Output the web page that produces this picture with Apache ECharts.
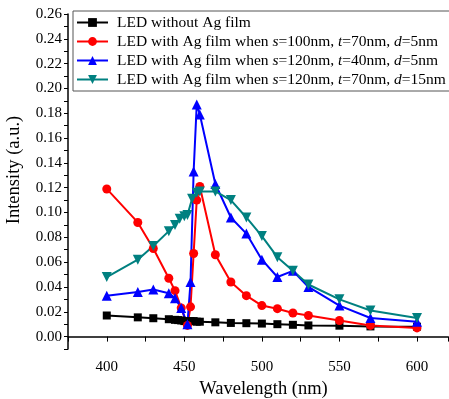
<!DOCTYPE html>
<html>
<head>
<meta charset="utf-8">
<script src="https://cdn.jsdelivr.net/npm/echarts@6/dist/echarts.min.js"></script>
<style>html,body{margin:0;padding:0;background:#fff}#c{width:449px;height:399px}</style>
</head>
<body>
<div id="c"></div>
<script>
// Data (wavelength nm, intensity a.u.)
var blackX = [400,420,430,440,444,446,448,450,452,454,456,458,460,470,480,490,500,510,520,530,550,570,600];
var blackY = [0.017,0.0155,0.0148,0.014,0.0135,0.0133,0.013,0.0125,0.012,0.0125,0.0125,0.012,0.012,0.0115,0.011,0.0108,0.0105,0.010,0.0095,0.009,0.0088,0.0082,0.008];
var redX = [400,420,430,440,444,448,452,454,456,458,460,470,480,490,500,510,520,530,550,570,600];
var redY = [0.119,0.092,0.071,0.047,0.037,0.023,0.009,0.024,0.067,0.110,0.121,0.066,0.044,0.033,0.025,0.0225,0.019,0.017,0.013,0.009,0.007];
var blueX = [400,420,430,440,444,448,452,454,456,458,460,470,480,490,500,510,520,530,550,570,600];
var blueY = [0.033,0.036,0.038,0.035,0.031,0.023,0.010,0.044,0.133,0.187,0.179,0.123,0.096,0.083,0.062,0.048,0.053,0.040,0.025,0.015,0.012];
var tealX = [400,420,430,440,444,447,450,452,455,458,460,470,480,490,500,510,520,530,550,570,600];
var tealY = [0.048,0.062,0.073,0.085,0.090,0.095,0.097,0.098,0.111,0.116,0.117,0.117,0.110,0.096,0.081,0.064,0.053,0.042,0.030,0.021,0.015];
var seriesNames = ['LED without Ag film','s100t70d5','s120t40d5','s120t70d15'];
var legendLabels = {
  'LED without Ag film': 'LED without Ag film',
  's100t70d5': 'LED with Ag film when {i|s}=100nm, {i|t}=70nm, {i|d}=5nm',
  's120t40d5': 'LED with Ag film when {i|s}=120nm, {i|t}=40nm, {i|d}=5nm',
  's120t70d15': 'LED with Ag film when {i|s}=120nm, {i|t}=70nm, {i|d}=15nm'
};
var xTitle = 'Wavelength (nm)';
var yTitle = 'Intensity (a.u.)';

function pairs(xs, ys){ return xs.map(function(x,i){return [x, ys[i]];}); }

var font = '"Liberation Serif","Times New Roman",serif';
var chart = echarts.init(document.getElementById('c'), null, {renderer:'canvas'});
var common = {type:'line', lineStyle:{width:2}, animation:false};
chart.setOption({
  backgroundColor:'#fff',
  animation:false,
  grid:{left:68, right:1, top:14, bottom:50, containLabel:false, outerBoundsMode:'none'},
  legend:{
    orient:'vertical', left:73, top:11,
    padding:[3,4,3,3],
    borderColor:'#555', borderWidth:1,
    backgroundColor:'#fff',
    itemWidth:31, itemHeight:11, itemGap:2,
    data:seriesNames,
    formatter:function(n){return legendLabels[n];},
    textStyle:{fontFamily:font, fontSize:15.5, color:'#000', lineHeight:17, padding:[0,0,0,4],
      rich:{i:{fontFamily:font, fontSize:15.5, fontStyle:'italic', color:'#000'}}}
  },
  xAxis:{
    type:'value', min:375, max:620, interval:25,
    name:xTitle, nameLocation:'middle', nameGap:30,
    nameTextStyle:{fontFamily:font, fontSize:18.5, color:'#000', padding:[0,0,0,11]},
    axisLine:{show:true, lineStyle:{color:'#000', width:1.5}},
    axisTick:{show:true, length:5, lineStyle:{color:'#000'}},
    splitLine:{show:false},
    axisLabel:{fontFamily:font, fontSize:15, color:'#000', margin:11,
      formatter:function(v){return (v%50===0 && v>=400 && v<=600)? String(v):'';}}
  },
  yAxis:{
    type:'value', min:-0.01, max:0.26, interval:0.01,
    name:yTitle, nameLocation:'middle', nameGap:44,
    nameTextStyle:{fontFamily:font, fontSize:18.5, color:'#000', padding:[0,0,0,23]},
    axisLine:{show:true, lineStyle:{color:'#000', width:1.5}},
    axisTick:{show:true, length:4, lineStyle:{color:'#000'}},
    splitLine:{show:false},
    axisLabel:{fontFamily:font, fontSize:15, color:'#000', margin:6,
      formatter:function(v){var k=Math.round(v*100); return (k>=0 && k%2===0)? (k/100).toFixed(2):'';}}
  },
  series:[
    Object.assign({}, common, {name:seriesNames[0], data:pairs(blackX,blackY), color:'#000000', symbol:'rect', symbolSize:8}),
    Object.assign({}, common, {name:seriesNames[1], data:pairs(redX,redY), color:'#ff0000', symbol:'circle', symbolSize:9}),
    Object.assign({}, common, {name:seriesNames[2], data:pairs(blueX,blueY), color:'#0000ff', symbol:'triangle', symbolSize:10}),
    Object.assign({}, common, {name:seriesNames[3], data:pairs(tealX,tealY), color:'#008080', symbol:'triangle', symbolRotate:180, symbolSize:10})
  ]
});
</script>
</body>
</html>
